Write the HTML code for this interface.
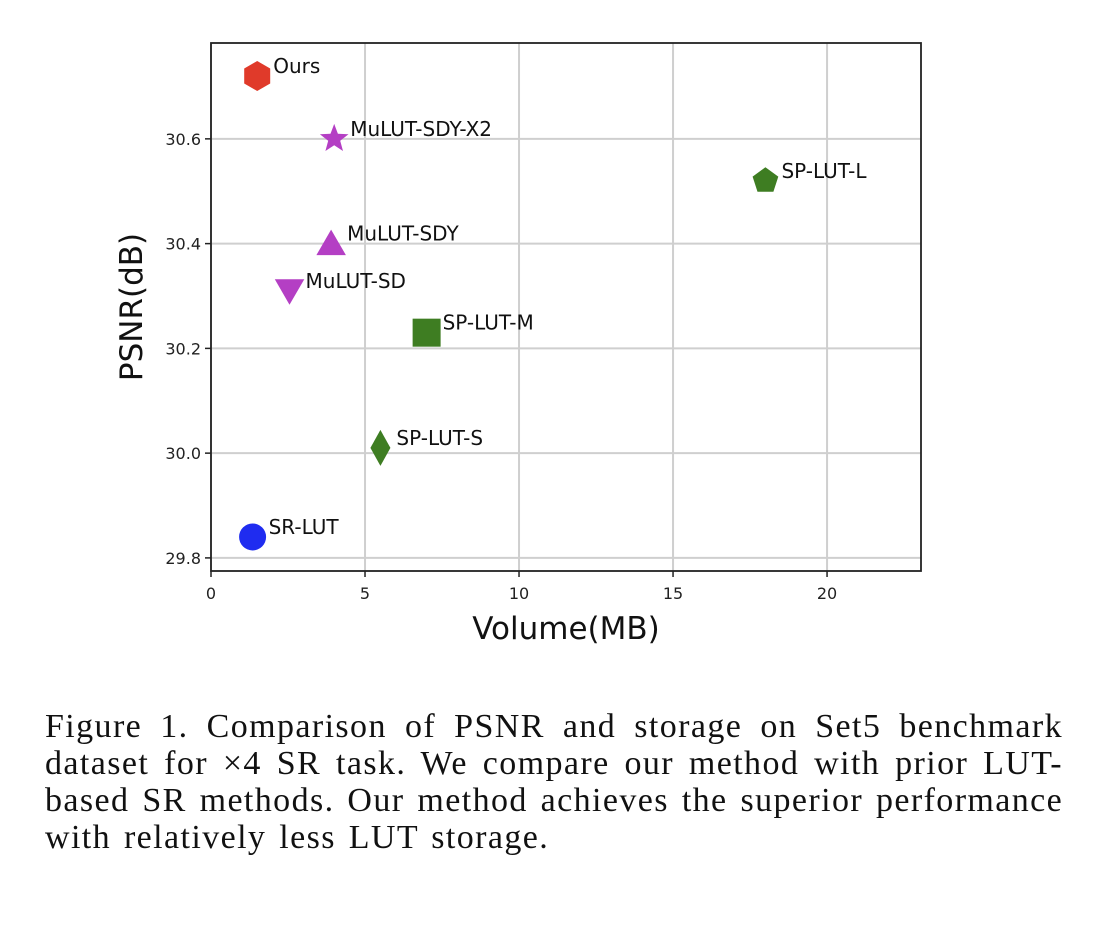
<!DOCTYPE html>
<html><head><meta charset="utf-8"><style>
body{margin:0;background:#fff;width:1114px;height:926px;overflow:hidden;position:relative}
#cap{position:absolute;left:45px;top:708px;width:1018px;font-family:"Liberation Serif",serif;font-size:34px;line-height:37px;letter-spacing:1.4px;word-spacing:3px;color:#111}
#cap div{text-align:justify;text-align-last:justify;white-space:nowrap}
#cap div.last{text-align-last:left}
</style></head><body>
<svg id="chart" width="1114" height="690" style="position:absolute;left:0;top:0" font-family="DejaVu Sans, sans-serif"></svg>
<div id="cap">
<div>Figure 1. Comparison of PSNR and storage on Set5 benchmark</div>
<div>dataset for ×4 SR task. We compare our method with prior LUT-</div>
<div>based SR methods. Our method achieves the superior performance</div>
<div class="last">with relatively less LUT storage.</div>
</div>
<script>
const names=["Ours","MuLUT-SDY-X2","SP-LUT-L","MuLUT-SDY","MuLUT-SD","SP-LUT-M","SP-LUT-S","SR-LUT"];
const volumes=[1.5,4.0,18.0,3.9,2.55,7.0,5.5,1.35];
const psnrs=[30.72,30.60,30.52,30.40,30.31,30.23,30.01,29.84];
const markers=["hex","star","pent","tri","tridown","square","diamond","circle"];
const colors=["#e03a2a","#b43fc4","#3e7d22","#b43fc4","#b43fc4","#3e7d22","#3e7d22","#1f2cf0"];
const xTicks=[0,5,10,15,20];
const yTicks=[29.8,30.0,30.2,30.4,30.6];
const L=211,R=921,T=43,B=571,xmin=0,xmax=23.05,ymin=29.775,ymax=30.783;
const X=v=>L+(v-xmin)/(xmax-xmin)*(R-L), Y=v=>B-(v-ymin)/(ymax-ymin)*(B-T);
const svg=document.getElementById('chart'),NS="http://www.w3.org/2000/svg";
function mk(t,a,p){const e=document.createElementNS(NS,t);for(const k in a)e.setAttribute(k,a[k]);(p||svg).appendChild(e);return e;}
xTicks.forEach(t=>{const x=X(t);
 const g=mk('line',{x1:x,x2:x,y1:T,y2:B,stroke:'#cfcfcf','stroke-width':2});
 
 mk('line',{x1:x,x2:x,y1:B,y2:B+6,stroke:'#222','stroke-width':1.5});
 const tx=mk('text',{x:x,y:B+28,'text-anchor':'middle','font-size':16,fill:'#222'});tx.textContent=t;
 });
yTicks.forEach(t=>{const y=Y(t);
 const g=mk('line',{x1:L,x2:R,y1:y,y2:y,stroke:'#cfcfcf','stroke-width':2});
 
 mk('line',{x1:L-6,x2:L,y1:y,y2:y,stroke:'#222','stroke-width':1.5});
 const tx=mk('text',{x:L-10,y:y+6,'text-anchor':'end','font-size':16,fill:'#222'});tx.textContent=t.toFixed(1);
 });
const fr=mk('rect',{x:L,y:T,width:R-L,height:B-T,fill:'none',stroke:'#222','stroke-width':1.8});

function poly(n,r,rot,cx,cy){let p=[];for(let i=0;i<n;i++){const a=rot+i*2*Math.PI/n;p.push((cx+r*Math.cos(a)).toFixed(1)+','+(cy+r*Math.sin(a)).toFixed(1));}return p.join(' ');}
function star(r,cx,cy){let p=[];for(let i=0;i<10;i++){const a=-Math.PI/2+i*Math.PI/5,rr=i%2?r*0.42:r;p.push((cx+rr*Math.cos(a)).toFixed(1)+','+(cy+rr*Math.sin(a)).toFixed(1));}return p.join(' ');}
names.forEach((n,i)=>{const cx=X(volumes[i]),cy=Y(psnrs[i]),c=colors[i];let e;
 switch(markers[i]){
  case 'hex':e=mk('polygon',{points:poly(6,15,-Math.PI/2,cx,cy),fill:c});break;
  case 'star':e=mk('polygon',{points:star(15,cx,cy),fill:c});break;
  case 'pent':e=mk('polygon',{points:poly(5,13.5,-Math.PI/2,cx,cy),fill:c});break;
  case 'tri':e=mk('polygon',{points:poly(3,17,-Math.PI/2,cx,cy+3),fill:c});break;
  case 'tridown':e=mk('polygon',{points:poly(3,17,Math.PI/2,cx,cy-3),fill:c});break;
  case 'square':e=mk('rect',{x:cx-14,y:cy-14,width:28,height:28,fill:c});break;
  case 'diamond':e=mk('polygon',{points:`${cx},${cy-18} ${cx+10},${cy} ${cx},${cy+18} ${cx-10},${cy}`,fill:c});break;
  default:e=mk('circle',{cx:cx,cy:cy,r:13.5,fill:c});}
 
 
 const t=mk('text',{x:cx+16,y:cy-3,'font-size':20,fill:'#111'});t.textContent=n;
 
 });
const xl=mk('text',{x:566,y:639,'text-anchor':'middle','font-size':31,fill:'#111'});xl.textContent='Volume(MB)';

const yl=mk('text',{x:0,y:0,'text-anchor':'middle','font-size':31,fill:'#111',transform:'translate(142,307) rotate(-90)'});yl.textContent='PSNR(dB)';

</script>
</body></html>
